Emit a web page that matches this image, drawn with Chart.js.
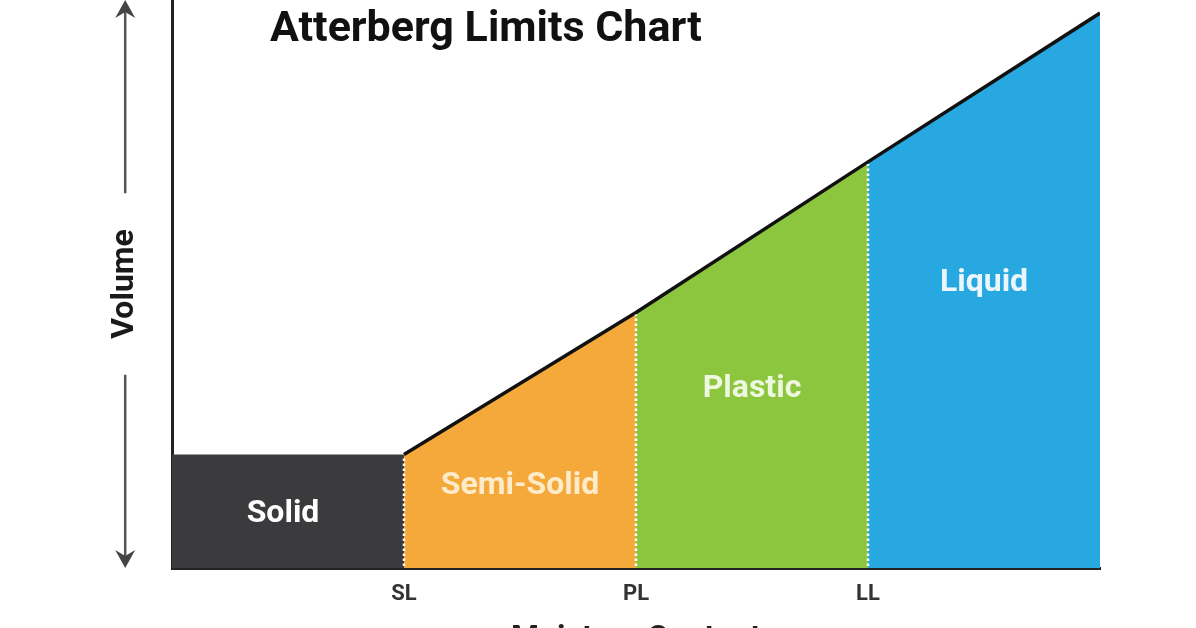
<!DOCTYPE html>
<html><head><meta charset="utf-8">
<script src="https://cdn.jsdelivr.net/npm/chart.js@4"></script>
<style>html,body{margin:0;padding:0;background:#fff;overflow:hidden}
#wrap{position:relative;width:1196px;height:670px}</style>
</head><body><div id="wrap"><canvas id="c" width="1196" height="670"></canvas></div>
<script>
const chartTitle = 'Atterberg Limits Chart';
const xAxisTitle = 'Moisture Content';
const yAxisTitle = 'Volume';
const stateNames = ['Solid', 'Semi-Solid', 'Plastic', 'Liquid'];
const limitLabels = ['SL', 'PL', 'LL'];
const limitPositions = [1, 2, 3];
const boundaryX = [0, 1, 2, 3, 4];
const boundaryVolume = [20, 20, 45, 71.5, 97.7];

const stateColors = ['#3b3b3d', '#f6a93b', '#8cc63f', '#27a8e0'];
const stateTextColors = ['#ffffff', '#fdebc9', '#eef7df', '#eaf6fc'];
const labelHeightFrac = [0.5, 0.46, 0.55, 0.6];
const labelShiftX = [-5, 0, 0, 0];
const BIG = 32;
const Y_TITLE_PAD = 106;

const regionSets = stateNames.map((name, i) => ({
  label: name,
  data: [{x: boundaryX[i], y: boundaryVolume[i]}, {x: boundaryX[i + 1], y: boundaryVolume[i + 1]}],
  backgroundColor: stateColors[i],
  borderWidth: 0,
  borderColor: 'rgba(0,0,0,0)',
  fill: 'origin',
  pointRadius: 0,
  tension: 0,
  order: 2
}));
const slopeSet = {
  label: 'Volume line',
  data: boundaryX.slice(1).map((x, i) => ({x: x, y: boundaryVolume[i + 1]})),
  borderColor: '#111111',
  borderWidth: 3.5,
  fill: false,
  pointRadius: 0,
  tension: 0,
  order: 0
};

const decor = {
  id: 'decor',
  afterDatasetsDraw(chart) {
    const {ctx, scales: {x, y}} = chart;
    ctx.save();
    ctx.strokeStyle = '#ffffff';
    ctx.lineWidth = 2.5;
    ctx.setLineDash([2.5, 2.5]);
    limitPositions.forEach((p) => {
      const idx = boundaryX.indexOf(p);
      const px = x.getPixelForValue(p);
      ctx.beginPath();
      ctx.moveTo(px, y.getPixelForValue(0) - 2);
      ctx.lineTo(px, y.getPixelForValue(boundaryVolume[idx]) + 2);
      ctx.stroke();
    });
    ctx.setLineDash([]);
    ctx.font = 'bold ' + BIG + 'px Roboto, "Open Sans", sans-serif';
    ctx.textAlign = 'center';
    ctx.textBaseline = 'middle';
    stateNames.forEach((name, i) => {
      const xm = (boundaryX[i] + boundaryX[i + 1]) / 2;
      const hm = (boundaryVolume[i] + boundaryVolume[i + 1]) / 2;
      ctx.fillStyle = stateTextColors[i];
      ctx.fillText(name, x.getPixelForValue(xm) + labelShiftX[i], y.getPixelForValue(hm * labelHeightFrac[i]) + 3);
    });
    ctx.restore();
  },
  afterDraw(chart) {
    const {ctx, chartArea, scales: {y}} = chart;
    ctx.save();
    ctx.font = 'bold 43px Roboto, "Open Sans", sans-serif';
    ctx.fillStyle = '#111111';
    ctx.textAlign = 'left';
    ctx.textBaseline = 'alphabetic';
    ctx.fillText(chartTitle, 270, 41);
    const cx = y.left + BIG * 1.2 / 2 + Y_TITLE_PAD;
    const cy = (chartArea.top + chartArea.bottom) / 2;
    ctx.font = 'bold ' + BIG + 'px Roboto, "Open Sans", sans-serif';
    const half = ctx.measureText(yAxisTitle).width / 2;
    const gap = 36;
    ctx.strokeStyle = '#555555';
    ctx.fillStyle = '#444444';
    ctx.lineWidth = 2.5;
    ctx.beginPath();
    ctx.moveTo(cx, chartArea.top + 10);
    ctx.lineTo(cx, cy - half - gap);
    ctx.moveTo(cx, cy + half + gap);
    ctx.lineTo(cx, chartArea.bottom - 10);
    ctx.stroke();
    const head = (tipY, dir) => {
      ctx.beginPath();
      ctx.moveTo(cx, tipY);
      ctx.lineTo(cx + 10, tipY + dir * 18);
      ctx.lineTo(cx, tipY + dir * 12);
      ctx.lineTo(cx - 10, tipY + dir * 18);
      ctx.closePath();
      ctx.fill();
    };
    head(chartArea.top, 1);
    head(chartArea.bottom, -1);
    ctx.restore();
  }
};

new Chart(document.getElementById('c'), {
  type: 'line',
  data: {datasets: [slopeSet, ...regionSets]},
  options: {
    responsive: false,
    animation: false,
    layout: {padding: {top: 0, right: 96, left: 0, bottom: 0}},
    plugins: {legend: {display: false}, tooltip: {enabled: false}, title: {display: false}},
    scales: {
      x: {
        type: 'linear', min: 0, max: 4,
        grid: {display: false, drawTicks: false},
        border: {display: true, color: '#222222', width: 3},
        afterBuildTicks: (s) => { s.ticks = limitPositions.map(v => ({value: v})); },
        afterFit: (s) => { s.height = 102; },
        ticks: {
          autoSkip: false, maxRotation: 0, padding: 13, color: '#333333',
          font: {family: '"Liberation Sans Narrow", Roboto, sans-serif', size: 22, weight: 'bold'},
          callback: (v) => limitLabels[limitPositions.indexOf(v)] || ''
        },
        title: {display: true, text: xAxisTitle, color: '#222222',
          font: {family: 'Roboto, sans-serif', size: BIG, weight: 'bold'},
          padding: {top: 0, bottom: 12}}
      },
      y: {
        min: 0, max: 100,
        grid: {display: false, drawTicks: false},
        border: {display: true, color: '#222222', width: 3},
        ticks: {display: false},
        afterFit: (s) => { s.width = 172; },
        title: {display: true, text: yAxisTitle, color: '#1a1a1a',
          font: {family: 'Roboto, sans-serif', size: BIG, weight: 'bold'},
          padding: {top: Y_TITLE_PAD, bottom: 0}}
      }
    }
  },
  plugins: [decor]
});
</script>
</body></html>
